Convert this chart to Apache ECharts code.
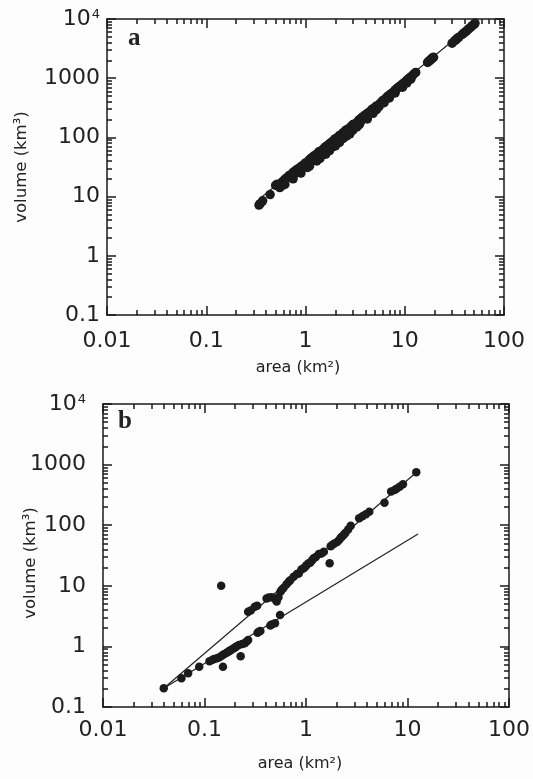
<!DOCTYPE html>
<html><head><meta charset="utf-8">
<script src="https://cdn.jsdelivr.net/npm/echarts@6/dist/echarts.min.js"></script>
<style>html,body{margin:0;padding:0;background:#fdfdfd}#c{width:533px;height:779px}</style>
</head><body><div id="c"></div>
<script>
// ---------- data (area km2, volume km3) ----------
const pointsA = [[0.34,7.2],[0.35,7.6],[0.37,8.5],[0.44,10.8],[0.5,15.5],[0.52,16.2],[0.55,14.2],[0.57,15],[0.58,17.5],[0.6,18.5],[0.62,19.5],[0.62,16],[0.64,20.5],[0.66,21],[0.68,22.5],[0.7,23],[0.72,21.5],[0.74,25],[0.75,20],[0.76,26],[0.78,24.5],[0.8,28],[0.82,27],[0.84,29.5],[0.86,26.5],[0.88,31],[0.9,30],[0.9,25],[0.92,33],[0.95,31],[0.97,35],[1.0,37],[1.02,33],[1.05,31],[1.08,41],[1.1,39],[1.1,33],[1.12,43],[1.15,45],[1.18,42],[1.2,48],[1.23,44],[1.26,50],[1.3,52],[1.3,40],[1.33,48],[1.36,57],[1.4,55],[1.4,44],[1.42,49],[1.45,60],[1.48,58],[1.5,52],[1.53,65],[1.56,62],[1.6,70],[1.6,52],[1.63,66],[1.65,58],[1.7,75],[1.73,70],[1.75,60],[1.76,79],[1.8,74],[1.84,84],[1.88,80],[1.9,70],[1.93,90],[1.97,86],[2.0,95],[2.0,72],[2.05,92],[2.1,100],[2.15,96],[2.2,108],[2.2,82],[2.25,90],[2.3,112],[2.35,104],[2.4,120],[2.4,96],[2.45,115],[2.5,128],[2.55,122],[2.6,135],[2.6,106],[2.7,138],[2.8,115],[2.85,150],[2.9,145],[3.0,165],[3.0,132],[3.1,160],[3.2,172],[3.3,150],[3.4,190],[3.5,200],[3.5,166],[3.6,185],[3.7,215],[3.8,225],[3.9,210],[4.0,240],[4.2,255],[4.2,205],[4.4,265],[4.6,290],[4.8,305],[4.8,255],[5.0,320],[5.2,340],[5.2,295],[5.5,330],[5.6,370],[5.8,390],[6.0,420],[6.2,385],[6.3,440],[6.6,480],[6.9,510],[7.0,465],[7.2,540],[7.5,560],[7.8,600],[8.0,565],[8.1,640],[8.4,680],[8.7,700],[9.0,740],[9.4,790],[9.5,705],[9.8,830],[10.2,880],[10.5,830],[10.6,940],[11.0,990],[11.5,1050],[11.5,960],[12.0,1120],[12.5,1200],[12.9,1250],[17,1850],[17.5,1950],[18,2000],[18.5,2100],[19,2200],[19.5,2250],[30,3900],[32,4300],[33,4500],[34,4750],[35,4900],[38,5500],[40,5900],[42,6300],[44,6800],[46,7200],[48,7700],[50,8100],[51,8500]];
const fitA = [[0.365,10],[52,8900]];

const lowerB = [[0.0397,0.204],[0.0593,0.298],[0.069,0.36],[0.0887,0.46],[0.112,0.57],[0.12,0.6],[0.125,0.62],[0.133,0.64],[0.14,0.66],[0.148,0.7],[0.155,0.74],[0.164,0.78],[0.172,0.82],[0.178,0.85],[0.184,0.88],[0.193,0.92],[0.2,0.96],[0.206,1.0],[0.218,1.05],[0.235,1.1],[0.249,1.13],[0.26,1.2],[0.269,1.28],[0.333,1.68],[0.343,1.74],[0.355,1.8],[0.445,2.22],[0.459,2.3],[0.495,2.4],[0.555,3.3]];
const upperB = [[0.269,3.74],[0.285,3.9],[0.313,4.5],[0.33,4.7],[0.409,6.2],[0.43,6.4],[0.459,6.5],[0.514,5.5],[0.5,6.0],[0.535,6.5],[0.56,8.0],[0.577,8.6],[0.6,9.2],[0.64,10.5],[0.673,11.6],[0.7,12.4],[0.755,14.1],[0.813,15.6],[0.85,16],[0.9,18.5],[0.948,19.5],[0.98,20.5],[1.01,21.8],[1.06,23.5],[1.1,24],[1.15,26.5],[1.19,28.4],[1.25,30],[1.34,33.5],[1.42,34],[1.5,36.4],[1.75,45],[1.81,47],[1.9,50],[2.03,53],[2.12,57],[2.2,62],[2.28,66],[2.37,70],[2.45,75],[2.6,85],[2.76,98],[3.34,130],[3.6,140],[3.89,151],[4.2,167],[6.9,360],[7.46,381],[7.8,400],[8.36,432],[9.02,473],[12.2,746]];
const outliersB = [[0.146,10],[0.152,0.46],[0.227,0.69],[1.71,23.5],[5.93,235]];
const fitUpperB = [[0.0397,0.204],[12.2,740]];
const fitLowerB = [[0.0397,0.204],[12.7,71.6]];

const xRange = [0.01, 100];
const yRange = [0.1, 10000];
const majorX = [0.01, 0.1, 1, 10, 100];
const majorY = [0.1, 1, 10, 100, 1000, 10000];
const minorX = [0.02,0.03,0.04,0.05,0.06,0.07,0.08,0.09,0.2,0.3,0.4,0.5,0.6,0.7,0.8,0.9,2,3,4,5,6,7,8,9,20,30,40,50,60,70,80,90];
const minorY = [0.2,0.3,0.4,0.5,0.6,0.7,0.8,0.9,2,3,4,5,6,7,8,9,20,30,40,50,60,70,80,90,200,300,400,500,600,700,800,900,2000,3000,4000,5000,6000,7000,8000,9000];
const xLabel = 'area (km²)';
const yLabel = 'volume (km³)';
const panelNames = ['a', 'b'];

// ---------- chart ----------
const INK = '#1a1a1a';
const DOT = '#1b1b1b';
const FONT = 'DejaVu Sans';

function fmt(v) {
  const r = +(+v).toPrecision(6);
  if (r === 10000) return '10{sup|4}';
  return String(r);
}

// isX, grid, position, tick values, tick length, show axis line, label margin (null = no labels)
function ax(isX, grid, pos, tickVals, len, showLine, margin) {
  const o = {
    type: 'log', logBase: 10, gridIndex: grid, position: pos,
    min: isX ? xRange[0] : yRange[0], max: isX ? xRange[1] : yRange[1],
    axisLine: {show: showLine, onZero: false, lineStyle: {color: INK, width: 1.5}},
    axisTick: {show: true, inside: true, length: len, customValues: tickVals, lineStyle: {color: INK, width: 1.5}},
    splitLine: {show: false},
    axisLabel: {show: false}
  };
  if (margin != null) {
    o.axisLabel = {show: true, formatter: fmt, fontFamily: FONT, fontSize: 22, color: '#222', margin: margin};
    if (!isX) o.axisLabel.rich = {sup: {fontSize: 13, fontFamily: FONT, color: '#222', verticalAlign: 'top', padding: [0, 0, 0, 1]}};
  }
  return o;
}

function fit(xi, yi, d) {
  return {type: 'line', xAxisIndex: xi, yAxisIndex: yi, data: d, symbol: 'none', silent: true,
    lineStyle: {color: '#222', width: 1.2}, z: 2};
}
function dots(xi, yi, d, s) {
  return {type: 'scatter', xAxisIndex: xi, yAxisIndex: yi, data: d, symbol: 'circle', symbolSize: s,
    itemStyle: {color: DOT, opacity: 1}, silent: true, z: 3};
}

const gA = {left: 107, top: 19, width: 397, height: 296};
const gB = {left: 103, top: 404, width: 406, height: 303};

const chart = echarts.init(document.getElementById('c'));
chart.setOption({
  animation: false,
  backgroundColor: '#fdfdfd',
  // grids 0/1: frame, major ticks, labels; grids 2/3: same rectangles carrying the log minor ticks
  grid: [gA, gB, Object.assign({}, gA), Object.assign({}, gB)],
  xAxis: [
    ax(true, 0, 'bottom', majorX, 9, true, 15), ax(true, 0, 'top', majorX, 9, true, null),
    ax(true, 1, 'bottom', majorX, 9, true, 12), ax(true, 1, 'top', majorX, 9, true, null),
    ax(true, 2, 'bottom', minorX, 5, false, null), ax(true, 2, 'top', minorX, 5, false, null),
    ax(true, 3, 'bottom', minorX, 5, false, null), ax(true, 3, 'top', minorX, 5, false, null)
  ],
  yAxis: [
    ax(false, 0, 'left', majorY, 9, true, 7), ax(false, 0, 'right', majorY, 9, true, null),
    ax(false, 1, 'left', majorY, 9, true, 17), ax(false, 1, 'right', majorY, 9, true, null),
    ax(false, 2, 'left', minorY, 5, false, null), ax(false, 2, 'right', minorY, 5, false, null),
    ax(false, 3, 'left', minorY, 5, false, null), ax(false, 3, 'right', minorY, 5, false, null)
  ],
  graphic: [
    {type: 'text', x: 128, y: 51, style: {text: panelNames[0], font: 'bold 25px "Liberation Serif"', fill: '#222', textVerticalAlign: 'bottom'}},
    {type: 'text', x: 118, y: 434, style: {text: panelNames[1], font: 'bold 25px "Liberation Serif"', fill: '#222', textVerticalAlign: 'bottom'}},
    {type: 'text', x: 298, y: 368, style: {text: xLabel, font: '16px "DejaVu Sans"', fill: '#222', textAlign: 'center', textVerticalAlign: 'middle'}},
    {type: 'text', x: 300, y: 764, style: {text: xLabel, font: '16px "DejaVu Sans"', fill: '#222', textAlign: 'center', textVerticalAlign: 'middle'}},
    {type: 'text', x: 22, y: 167, rotation: Math.PI / 2, style: {text: yLabel, font: '16.5px "DejaVu Sans"', fill: '#222', textAlign: 'center', textVerticalAlign: 'middle'}},
    {type: 'text', x: 31, y: 563, rotation: Math.PI / 2, style: {text: yLabel, font: '16.5px "DejaVu Sans"', fill: '#222', textAlign: 'center', textVerticalAlign: 'middle'}}
  ],
  series: [
    fit(0, 0, fitA), dots(0, 0, pointsA, 9.5),
    fit(2, 2, fitUpperB), fit(2, 2, fitLowerB),
    dots(2, 2, lowerB, 8.5), dots(2, 2, upperB, 8.5), dots(2, 2, outliersB, 8.5)
  ]
});
</script></body></html>
